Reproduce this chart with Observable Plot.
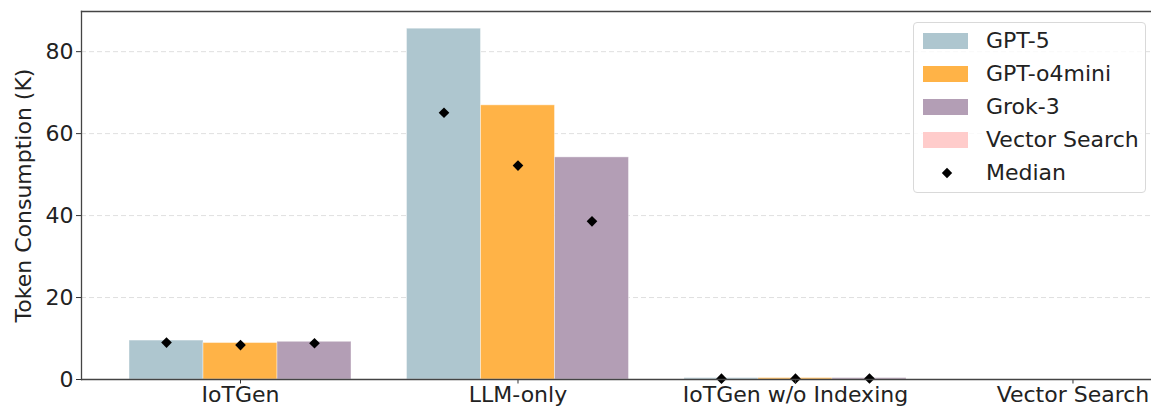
<!DOCTYPE html>
<html>
<head>
<meta charset="utf-8">
<script src="https://cdn.jsdelivr.net/npm/d3@7"></script>
<script src="https://cdn.jsdelivr.net/npm/@observablehq/plot@0.6"></script>
<style>
  html, body { margin: 0; padding: 0; background: #fff; }
  #wrap { position: relative; width: 1151px; height: 410px; overflow: hidden; font-family: "DejaVu Sans", sans-serif; }
  #legend { position: absolute; left: 913px; top: 22px; width: 233px; height: 171px; box-sizing: border-box;
            border: 1px solid #d9d9d9; border-radius: 4px; background: rgba(255,255,255,0.8); }
  .row { position: absolute; left: 0; height: 24px; }
  .sw { position: absolute; left: 9px; width: 45px; height: 16px; }
  .lt { position: absolute; left: 72px; font-size: 22px; color: #222; white-space: nowrap; line-height: 24px; }
</style>
</head>
<body>
<div id="wrap"><div id="chart"></div><div id="legend"></div></div>
<script>
const categories = ["IoTGen", "LLM-only", "IoTGen w/o Indexing", "Vector Search"];
const series = ["GPT-5", "GPT-o4mini", "Grok-3"];
const colors = ["#aec6cf", "#ffb347", "#b39eb5", "#ffcccb"];
const legendNames = ["GPT-5", "GPT-o4mini", "Grok-3", "Vector Search"];
// mean token consumption (K) per category, per model
const gpt5Mean   = [9.5, 85.6, 0.35, 0];
const o4miniMean = [8.9, 66.9, 0.35, 0];
const grok3Mean  = [9.2, 54.2, 0.35, 0];
// medians
const gpt5Median   = [9.0, 65.1, 0.2, null];
const o4miniMedian = [8.4, 52.2, 0.2, null];
const grok3Median  = [8.85, 38.6, 0.25, null];
const yTicks = [0, 20, 40, 60, 80];

const means = [gpt5Mean, o4miniMean, grok3Mean];
const medians = [gpt5Median, o4miniMedian, grok3Median];
const barW = 0.8 / 3;
const rows = [];
series.forEach((s, si) => {
  categories.forEach((c, ci) => {
    const center = ci + (si - 1) * barW;
    rows.push({series: s, color: colors[si], x1: center - barW / 2, x2: center + barW / 2, xc: center,
               mean: means[si][ci], median: medians[si][ci]});
  });
});

const chart = Plot.plot({
  width: 1151,
  height: 410,
  marginLeft: 81,
  marginRight: 0,
  marginTop: 11,
  marginBottom: 31,
  style: {fontFamily: "DejaVu Sans, sans-serif", fontSize: "22px", color: "#222", background: "transparent"},
  x: {domain: [-0.573, 3.283]},
  y: {domain: [0, 89.8]},
  marks: [
    Plot.gridY(yTicks.filter(d => d > 0), {stroke: "#bbb", strokeOpacity: 0.6, strokeDasharray: "5,3", strokeWidth: 0.8}),
    Plot.rectY(rows.filter(d => d.mean > 0), {x1: "x1", x2: "x2", y1: 0, y2: "mean", fill: "color", stroke: "white", strokeOpacity: 0.4, strokeWidth: 1}),
    Plot.dot(rows.filter(d => d.median != null), {x: "xc", y: "median", symbol: "diamond2", r: 4.8, fill: "black", stroke: "none"}),
    Plot.axisX({ticks: [0, 1, 2, 3], tickFormat: i => categories[i], tickSize: 4.5, tickPadding: 2, label: null, fontSize: 22, stroke: "#333"}),
    Plot.axisY({ticks: yTicks, tickSize: 5, tickPadding: 3, fontSize: 22, label: "Token Consumption (K)", labelAnchor: "center", labelArrow: "none", labelOffset: 66, stroke: "#333"}),
    Plot.ruleY([0], {stroke: "#444", strokeWidth: 1.3}),
    Plot.frame({anchor: "left", stroke: "#444", strokeWidth: 1.3}),
    Plot.frame({anchor: "top", stroke: "#444", strokeWidth: 1.3})
  ]
});
document.getElementById("chart").appendChild(chart);

const legend = document.getElementById("legend");
legendNames.forEach((n, i) => {
  const top = 6 + i * 33;
  legend.insertAdjacentHTML("beforeend",
    `<div class="row" style="top:${top}px"><div class="sw" style="background:${colors[i]};top:4px"></div><div class="lt" style="top:0">${n}</div></div>`);
});
legend.insertAdjacentHTML("beforeend",
  `<div class="row" style="top:${6 + 4 * 33}px"><svg style="position:absolute;left:26px;top:5px" width="14" height="14"><path d="M7,1.8L12.2,7L7,12.2L1.8,7Z" fill="black"/></svg><div class="lt" style="top:0">Median</div></div>`);
</script>
</body>
</html>
